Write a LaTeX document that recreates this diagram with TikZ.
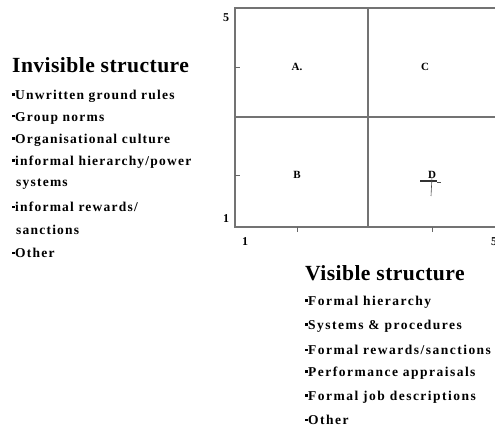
\documentclass[tikz,border=0pt]{standalone}
\usepackage{fontspec}
\setmainfont{Liberation Serif}
\newcommand{\bul}{\raisebox{0.27em}{\rule{2.4pt}{2.4pt}}\hspace{0.6pt}}
\tikzset{
  frame/.style={draw=black!55, line width=1.3pt},
  tick/.style={draw=black!60, line width=0.8pt},
  title/.style={anchor=west, inner sep=0pt, font=\bfseries\fontsize{21.6}{23}\selectfont\addfontfeatures{LetterSpace=2}},
  litem/.style={anchor=west, inner sep=0pt, font=\bfseries\fontsize{13.5}{15}\selectfont\addfontfeatures{LetterSpace=9}},
  ritem/.style={anchor=west, inner sep=0pt, font=\bfseries\fontsize{13.5}{15}\selectfont\addfontfeatures{LetterSpace=11}},
  quad/.style={inner sep=0pt, font=\bfseries\fontsize{11}{12}\selectfont},
  axlab/.style={inner sep=0pt, font=\bfseries\fontsize{12}{13}\selectfont},
}
\begin{document}
\begin{tikzpicture}[x=1pt,y=-1pt]
\useasboundingbox (0,0) rectangle (495,427);
\clip (0,0) rectangle (495,427);
% frame
\coordinate (tl) at (235,8);
\coordinate (bl) at (235,227);
\coordinate (tr) at (497,8);
\coordinate (br) at (497,227);
\coordinate (mt) at (368,8);
\coordinate (mb) at (368,227);
\coordinate (ml) at (235,117);
\coordinate (mr) at (497,117);
\draw[frame] (tr) -- (tl) -- (bl) -- (br);
\draw[frame] (mt) -- (mb);
\draw[frame] (ml) -- (mr);
% ticks
\draw[tick] (235,67) -- (240,67);
\draw[tick] (235,175) -- (240,175);
\draw[tick] (297,227) -- (297,232);
\draw[tick] (432,227) -- (432,232);
% axis labels
\node[axlab] (y5) at (226,18) {5};
\node[axlab] (y1) at (226,219) {1};
\node[axlab] (x1) at (245,242) {1};
\node[axlab] (x5) at (494,242) {5};
% quadrant labels
\node[quad] (A) at (297,67) {A.};
\node[quad] (C) at (425,67) {C};
\node[quad] (B) at (297,175) {B};
\node[quad] (D) at (432,175) {D};
% marker
\draw[line width=2.6pt, black!80] (420,181) -- (437,181);
\draw[line width=0.6pt, black!70] (432,177) -- (431,196);
\draw[line width=0.6pt, black!70] (437,182) -- (441,182);
% left text
\node[title] (lt) at (12,65) {Invisible structure};
\node[litem] (l1) at (12,96) {\bul Unwritten ground rules};
\node[litem] (l2) at (12,118) {\bul Group norms};
\node[litem] (l3) at (12,140) {\bul Organisational culture};
\node[litem] (l4) at (12,162) {\bul informal hierarchy/power};
\node[litem] (l5) at (16,184) {systems};
\node[litem] (l6) at (12,207) {\bul informal rewards/};
\node[litem] (l7) at (16,230) {sanctions};
\node[litem] (l8) at (12,253) {\bul Other};
% right text
\node[title] (rt) at (305,273) {Visible structure};
\node[ritem] (r1) at (305,302) {\bul Formal hierarchy};
\node[ritem] (r2) at (305,326) {\bul Systems \& procedures};
\node[ritem] (r3) at (305,350) {\bul Formal rewards/sanctions};
\node[ritem] (r4) at (305,373) {\bul Performance appraisals};
\node[ritem] (r5) at (305,397) {\bul Formal job descriptions};
\node[ritem] (r6) at (305,420) {\bul Other};
\end{tikzpicture}
\end{document}
